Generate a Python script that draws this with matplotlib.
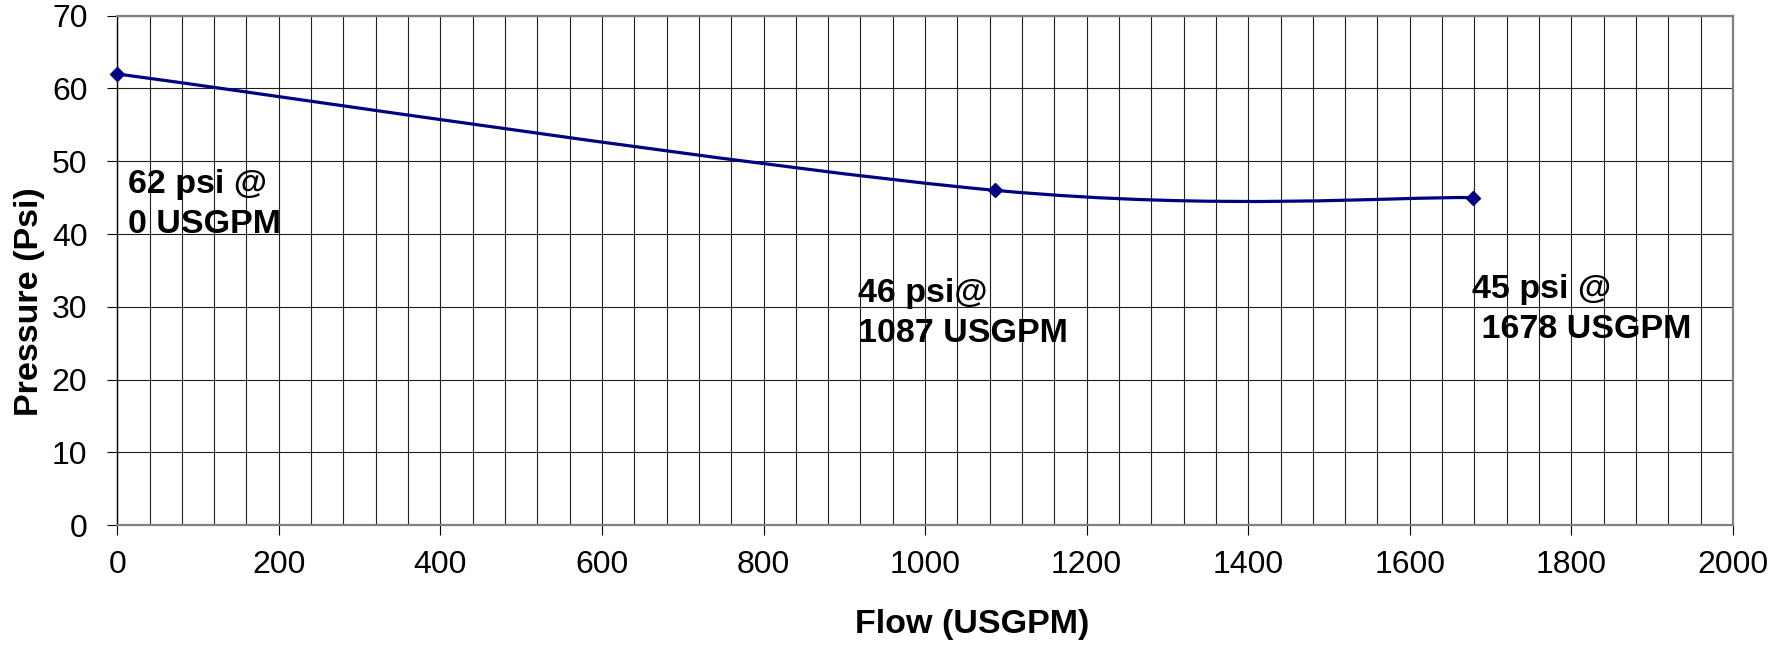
import numpy as np
import matplotlib
matplotlib.use("Agg")
import matplotlib.pyplot as plt
from matplotlib.path import Path
from matplotlib.patches import PathPatch
from matplotlib.ticker import MultipleLocator

# ---- data ----
flow = [0, 1087, 1678]
pressure = [62, 46, 45]
point_labels = ["62 psi @\n0 USGPM", "46 psi@\n1087 USGPM", "45 psi @\n 1678 USGPM"]
x_label = "Flow (USGPM)"
y_label = "Pressure (Psi)"

# ---- layout (first-line baseline anchor of each label, data coords) ----
label_xy = [(13.6, 45.6), (917, 30.65), (1677.5, 31.15)]
line_step_pt = 28.8

plt.rcParams['font.family'] = ['Liberation Sans', 'DejaVu Sans']

fig = plt.figure(figsize=(17.71, 6.61), dpi=100)
ax = fig.add_axes([0.0662, 0.2057, 0.9123, 0.7705])

ax.set_xlim(0, 2000)
ax.set_ylim(0, 70)
ax.xaxis.set_major_locator(MultipleLocator(200))
ax.xaxis.set_minor_locator(MultipleLocator(40))
ax.yaxis.set_major_locator(MultipleLocator(10))

ax.grid(True, which='both', axis='x', color='#202020', lw=0.8)
ax.grid(True, which='major', axis='y', color='#202020', lw=0.8)
ax.set_axisbelow(True)

ax.tick_params(axis='both', which='major', direction='out', length=7, width=0.8,
               labelsize=23, color='black')
ax.tick_params(axis='y', pad=14.5)
ax.tick_params(axis='x', pad=11)
ax.tick_params(which='minor', length=0)

for s in ['top', 'right', 'bottom']:
    ax.spines[s].set_color('#808080')
    ax.spines[s].set_linewidth(1.6)
ax.spines['left'].set_color('black')
ax.spines['left'].set_linewidth(1.0)

# ---- smoothed line (Catmull-Rom style Bezier, as in spreadsheet smoothing) ----
P = np.column_stack([flow, pressure]).astype(float)
n = len(P)
verts = [tuple(P[0])]
codes = [Path.MOVETO]
for i in range(n - 1):
    p_prev = P[max(i - 1, 0)]
    p0 = P[i]
    p1 = P[i + 1]
    p_next = P[min(i + 2, n - 1)]
    c1 = p0 + (p1 - p_prev) / 6.0
    c2 = p1 - (p_next - p0) / 6.0
    verts += [tuple(c1), tuple(c2), tuple(p1)]
    codes += [Path.CURVE4] * 3
patch = PathPatch(Path(verts, codes), facecolor='none', edgecolor='#000080', lw=2.3,
                  zorder=3)
ax.add_patch(patch)
ax.plot(flow, pressure, linestyle='none', marker='D', markersize=7.5,
        color='#000080', zorder=4, clip_on=False)

for (tx, ty), txt in zip(label_xy, point_labels):
    for k, line in enumerate(txt.split("\n")):
        ax.annotate(line, xy=(tx, ty), xytext=(0, -k * line_step_pt),
                    textcoords='offset points', fontsize=24.5, fontweight='bold',
                    ha='left', va='baseline', zorder=5)

ax.set_xlabel(x_label, fontsize=24.5, fontweight='bold')
ax.set_ylabel(y_label, fontsize=24.5, fontweight='bold')
ax.xaxis.set_label_coords(0.529, -0.165)
ax.yaxis.set_label_coords(-0.045, 0.438)

fig.savefig("out.png", dpi=100)
